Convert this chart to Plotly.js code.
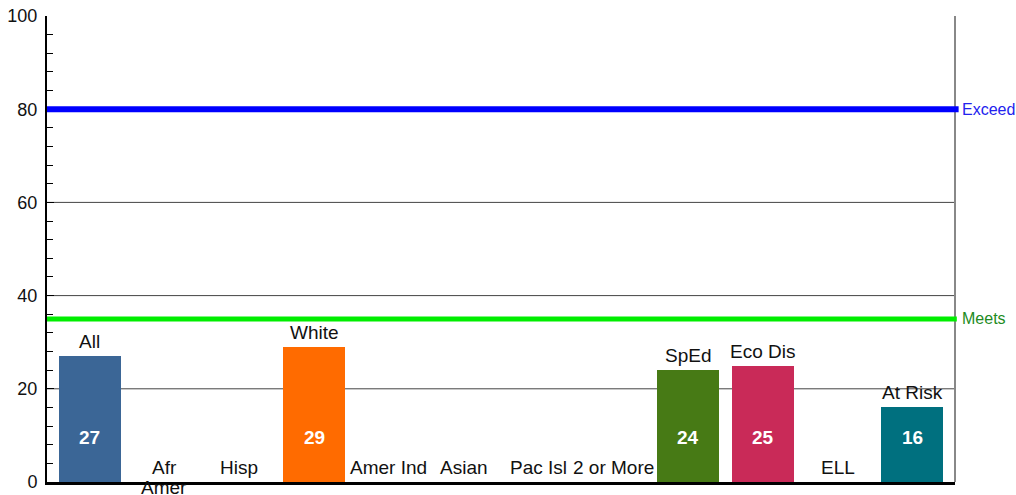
<!DOCTYPE html>
<html><head><meta charset="utf-8">
<script src="https://cdn.plot.ly/plotly-3.0.1.min.js"></script>
<style>html,body{margin:0;padding:0;background:#fff;}#chart{width:1016px;height:495px;}</style>
</head><body><div id="chart"></div>
<script>
const categories = ["All","Afr<br>Amer","Hisp","White","Amer Ind","Asian","Pac Isl","2 or More","SpEd","Eco Dis","ELL","At Risk"];
const values = [27,null,null,29,null,null,null,null,24,25,null,16];
const barColors = ["#3B6696","#3B6696","#3B6696","#FF6B00","#3B6696","#3B6696","#3B6696","#3B6696","#477A15","#C92A58","#3B6696","#00707F"];
const meetsValue = 35;
const exceedValue = 80;
const gridValues = [20,40,60];
const yTicks = [0,20,40,60,80,100];

const xIdx = categories.map((c,i)=>i);
const font = "Liberation Sans, Arial, sans-serif";

const trace = {
  type:'bar', x:xIdx, y:values.map(v=>v===null?0:v),
  marker:{color:barColors, line:{width:0}}, width:0.83,
  hoverinfo:'skip', showlegend:false
};

const annotations = [];
categories.forEach((c,i)=>{
  const v = values[i]===null?0:values[i];
  c.split('<br>').forEach((line,k)=>{
    annotations.push({x:i, y:v, xref:'x', yref:'y', text:line, showarrow:false,
      yanchor:'top', yshift:27 - 20*k, font:{family:font,size:19,color:'#111'}});
  });
  if(values[i]!==null){
    annotations.push({x:i, y:9.6, xref:'x', yref:'y', text:'<b>'+values[i]+'</b>', showarrow:false,
      yanchor:'middle', font:{family:font,size:19,color:'#fff'}});
  }
});
annotations.push({x:1, y:exceedValue, xref:'paper', yref:'y', text:'Exceed', showarrow:false,
  xanchor:'left', xshift:5, yanchor:'middle', font:{family:font,size:16,color:'#2222EE'}});
annotations.push({x:1, y:meetsValue, xref:'paper', yref:'y', text:'Meets', showarrow:false,
  xanchor:'left', xshift:5, yanchor:'middle', font:{family:font,size:16,color:'#228B22'}});

const shapes = gridValues.map(g=>({type:'line', xref:'paper', yref:'y', x0:0, x1:1, y0:g, y1:g,
  line:{color:'#444', width:1}, layer:'below'}));
shapes.push({type:'line', xref:'paper', yref:'paper', x0:1, x1:1, y0:0, y1:1, line:{color:'#888', width:2}});
shapes.push({type:'line', xref:'paper', yref:'y', x0:0, x1:1.004, y0:exceedValue, y1:exceedValue, line:{color:'#0000FF', width:6}});
shapes.push({type:'line', xref:'paper', yref:'y', x0:0, x1:1.002, y0:meetsValue, y1:meetsValue, line:{color:'#00EE00', width:5}});

const layout = {
  width:1016, height:495,
  margin:{l:47, r:61, t:16, b:13},
  paper_bgcolor:'#fff', plot_bgcolor:'#fff',
  bargap:0,
  xaxis:{range:[-0.57,11.57], showticklabels:false, ticks:'', showgrid:false, zeroline:false,
    showline:true, linecolor:'#000', linewidth:3, fixedrange:true},
  yaxis:{range:[0,100], tickvals:yTicks, showgrid:false, zeroline:false,
    showline:true, linecolor:'#000', linewidth:2,
    ticks:'inside', ticklen:7, tickcolor:'#000', tickwidth:1,
    minor:{dtick:4, ticks:'inside', ticklen:6, tickcolor:'#000', tickwidth:1},
    tickfont:{family:font, size:18, color:'#111'}, ticklabelstandoff:4, fixedrange:true},
  shapes:shapes, annotations:annotations
};
Plotly.newPlot('chart',[trace],layout,{displayModeBar:false, staticPlot:true});
</script></body></html>
